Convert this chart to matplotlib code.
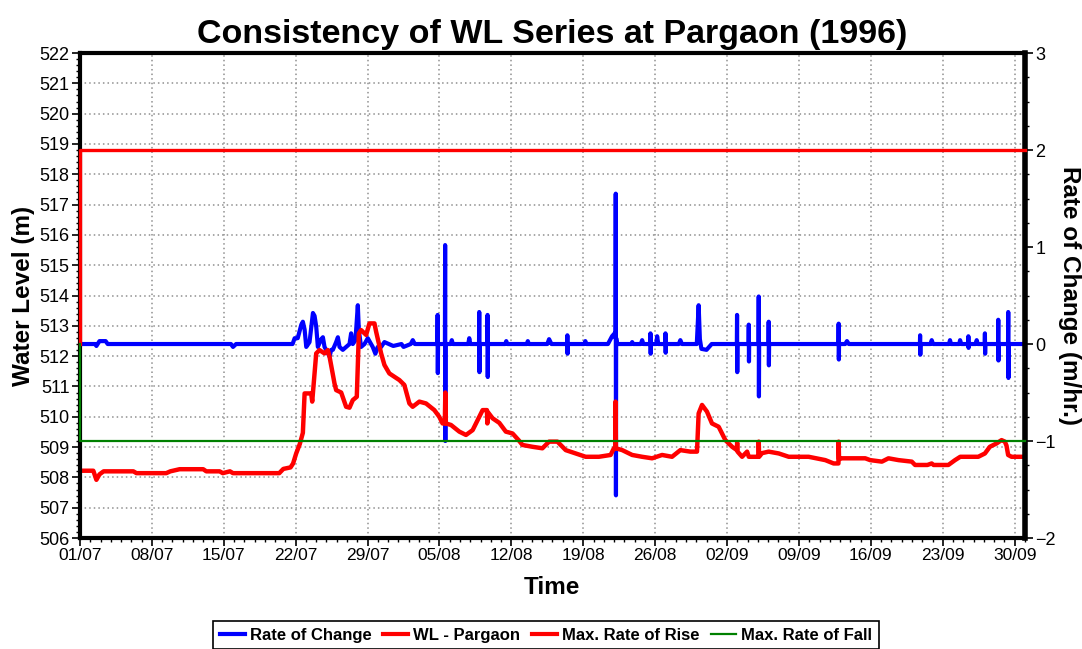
import numpy as np
import pandas as pd
import matplotlib
matplotlib.use('Agg')
import matplotlib.pyplot as plt
import matplotlib.dates as mdates
from matplotlib.lines import Line2D
from matplotlib.ticker import MultipleLocator, FixedLocator

plt.rcParams['font.family'] = ['Liberation Sans', 'DejaVu Sans']

start = pd.Timestamp('1996-07-01')

# water level (m), days after 01/07/1996
wl_day = [0.0, 1.3, 1.6, 1.9, 2.3, 5.2, 5.5, 8.4, 8.8, 9.7, 12.0, 12.3, 13.6, 13.9,
          14.6, 14.9, 19.4, 19.8, 20.5, 20.75, 21.05, 21.4, 21.7, 21.87, 22.51, 22.61,
          23.0, 23.32, 23.81, 24.13, 24.3, 24.78, 24.94, 25.43, 25.91, 26.24, 26.56,
          26.95, 27.15, 27.37, 27.86, 28.18, 28.67, 28.83, 29.32, 29.64, 30.12, 30.61,
          31.1, 31.58, 32.07, 32.39, 33.04, 33.69, 34.5, 34.98, 35.3, 35.52, 35.57,
          35.62, 36.12, 36.93, 37.58, 38.23, 38.71, 39.2, 39.62, 39.66, 39.72, 40.17,
          40.82, 41.46, 42.11, 42.7, 43.08, 44.05, 45.02, 45.67, 46.48, 47.29, 48.26,
          49.23, 50.52, 51.66, 51.98, 52.12, 52.14, 52.18, 52.79, 53.76, 54.73, 55.7,
          56.67, 57.64, 58.45, 59.42, 60.07, 60.23, 60.56, 61.04, 61.53, 62.18, 62.83,
          63.49, 63.95, 63.98, 64.02, 64.46, 64.95, 65.11, 66.05, 66.08, 66.12, 66.4,
          67.05, 68.03, 69.0, 70.94, 72.56, 73.37, 73.84, 73.86, 73.9, 74.18, 76.45,
          76.93, 78.07, 78.71, 79.69, 80.98, 81.3, 82.5, 82.92, 83.1, 84.54, 85.19,
          85.7, 87.45, 88.1, 88.58, 89.23, 89.72, 90.04, 90.2, 90.36, 90.69, 91.9]
wl_val = [508.22, 508.22, 507.92, 508.10, 508.20, 508.20, 508.14, 508.14, 508.20,
          508.27, 508.27, 508.20, 508.20, 508.14, 508.20, 508.14, 508.14, 508.28,
          508.33, 508.46, 508.79, 509.10, 509.47, 510.77, 510.77, 510.50, 512.09,
          512.20, 512.09, 512.20, 511.98, 511.10, 510.88, 510.80, 510.33, 510.30,
          510.55, 510.66, 512.75, 512.86, 512.70, 513.08, 513.08, 512.81, 512.09,
          511.71, 511.43, 511.32, 511.21, 511.05, 510.44, 510.33, 510.50, 510.44,
          510.22, 510.00, 509.78, 509.78, 510.80, 509.78, 509.73, 509.51, 509.40,
          509.56, 509.89, 510.22, 510.22, 509.78, 510.15, 509.95, 509.80, 509.51,
          509.45, 509.23, 509.07, 509.01, 508.96, 509.18, 509.18, 508.90, 508.79,
          508.68, 508.68, 508.74, 508.96, 508.96, 510.50, 508.96, 508.90, 508.74,
          508.68, 508.63, 508.74, 508.68, 508.90, 508.85, 508.85, 510.11, 510.39,
          510.17, 509.78, 509.67, 509.23, 509.01, 508.90, 509.15, 508.85, 508.68,
          508.85, 508.68, 508.68, 509.18, 508.68, 508.80, 508.85, 508.79, 508.68,
          508.68, 508.57, 508.46, 508.46, 509.18, 508.60, 508.63, 508.63, 508.57,
          508.52, 508.63, 508.57, 508.52, 508.41, 508.41, 508.46, 508.41, 508.41,
          508.57, 508.68, 508.68, 508.79, 509.01, 509.12, 509.23, 509.18, 509.05,
          508.74, 508.68, 508.68]

# rate of change (m/hr.), slow part
rate_day = [0.0, 1.5, 1.6, 1.9, 2.5, 2.7, 14.7, 14.9, 15.2, 20.7, 20.9, 21.2, 21.55,
            21.7, 21.87, 22.03, 22.35, 22.68, 22.84, 23.0, 23.16, 23.49, 23.65, 23.81,
            23.97, 24.3, 24.46, 24.62, 24.94, 25.11, 25.27, 25.59, 25.91, 26.24, 26.4,
            26.56, 26.82, 26.95, 27.05, 27.15, 27.37, 27.7, 28.02, 28.34, 28.5, 28.76,
            28.99, 29.32, 29.64, 30.5, 31.3, 31.5, 32.2, 32.4, 32.6, 36.1, 36.2, 36.3,
            37.8, 37.9, 38.0, 41.4, 41.5, 41.6, 43.5, 43.6, 43.7, 45.5, 45.67, 45.9,
            49.1, 49.2, 49.3, 51.4, 51.8, 52.05, 52.3, 53.7, 53.76, 53.85, 54.6, 54.73,
            54.85, 56.1, 56.19, 56.3, 58.3, 58.45, 58.6, 60.05, 60.23, 60.35, 60.5,
            61.0, 61.5, 62.0, 74.5, 74.67, 74.85, 82.8, 82.92, 83.05, 84.6, 84.7, 84.8,
            85.6, 85.68, 85.8, 87.2, 87.3, 87.4, 91.9]
rate_val = [0.0, 0.0, -0.02, 0.03, 0.03, 0.0, 0.0, -0.03, 0.0, 0.0, 0.06, 0.06, 0.20,
            0.23, 0.15, -0.03, 0.02, 0.32, 0.29, 0.18, -0.03, 0.05, 0.07, -0.03, -0.06,
            -0.13, -0.06, -0.06, 0.02, 0.07, -0.03, -0.06, -0.03, 0.0, 0.11, 0.0, 0.04,
            0.25, 0.40, 0.14, -0.03, 0.0, 0.06, 0.0, -0.03, -0.10, -0.03, -0.03, 0.02,
            -0.02, 0.0, -0.03, 0.0, 0.04, 0.0, 0.0, 0.04, 0.0, 0.0, 0.06, 0.0, 0.0,
            0.03, 0.0, 0.0, 0.03, 0.0, 0.0, 0.05, 0.0, 0.0, 0.03, 0.0, 0.0, 0.08, 0.11,
            0.0, 0.0, 0.02, 0.0, 0.0, 0.04, 0.0, 0.0, 0.08, 0.0, 0.0, 0.04, 0.0, 0.0,
            0.40, 0.05, -0.05, -0.06, 0.0, 0.0, 0.0, 0.03, 0.0, 0.0, 0.04, 0.0, 0.0,
            0.04, 0.0, 0.0, 0.04, 0.0, 0.0, 0.04, 0.0, 0.0]

# sharp oscillations: day, peak, trough
spike_day = [34.82, 35.55, 38.87, 39.68, 47.45, 52.16, 55.54, 57.0, 63.97, 65.11,
             66.08, 67.05, 73.86, 81.79, 86.49, 88.1, 89.4, 90.37]
spike_hi = [0.30, 1.02, 0.33, 0.30, 0.09, 1.55, 0.11, 0.11, 0.30, 0.20, 0.49, 0.23,
            0.21, 0.09, 0.08, 0.11, 0.25, 0.33]
spike_lo = [-0.30, -1.00, -0.29, -0.34, -0.10, -1.56, -0.10, -0.09, -0.29, -0.18,
            -0.54, -0.22, -0.16, -0.11, -0.04, -0.10, -0.17, -0.35]

# limits (start from zero at the first instant)
limit_day = [0.0, 0.0, 92.0]
max_rise = [0.0, 2.0, 2.0]
max_fall = [0.0, -1.0, -1.0]

def to_dates(days):
    return mdates.date2num(start + pd.to_timedelta(np.asarray(days, dtype=float), unit='D'))

rd = list(rate_day)
rv = list(rate_val)
for d, hi, lo in zip(spike_day, spike_hi, spike_lo):
    b = float(np.interp(d, rate_day, rate_val))
    rd += [d - 0.02, d, d + 0.02, d + 0.04]
    rv += [b, hi, lo, b]
order = np.argsort(rd, kind='stable')
rd = np.array(rd)[order]
rv = np.array(rv)[order]

fig = plt.figure(figsize=(10.82, 6.49), dpi=100)
ax1 = fig.add_axes([0.0739, 0.171, 0.8734, 0.7473])
ax2 = ax1.twinx()

ax1.set_ylim(506, 522)
ax2.set_ylim(-2, 3)
ax1.set_xlim(to_dates([0])[0], to_dates([92])[0])

ax1.grid(True, which='major', color='#909090', linestyle=(0, (1, 2)), linewidth=1.1)
ax1.set_axisbelow(True)

ln_rate, = ax2.plot(to_dates(rd), rv, color='#0000ff', lw=3, solid_joinstyle='round', zorder=2)
ln_wl, = ax2.plot(to_dates(wl_day), wl_val, color='#ff0000', lw=3.2,
                  transform=ax1.transData, zorder=2.2)
ln_rise, = ax2.plot(to_dates(limit_day), max_rise, color='#ff0000', lw=2.4,
                    clip_on=False, zorder=3)
ln_fall, = ax2.plot(to_dates(limit_day), max_fall, color='#008000', lw=1.6,
                    clip_on=False, zorder=3)

for s in ['left', 'right', 'top', 'bottom']:
    ax1.spines[s].set_visible(False)
ax2.spines['left'].set_linewidth(3)
ax2.spines['right'].set_linewidth(4)
for s in ['top', 'bottom']:
    ax2.spines[s].set_linewidth(3)
    ax2.spines[s].set_linestyle((0, (1, 1)))

weeks = to_dates(np.arange(0, 92, 7))
ax1.xaxis.set_major_locator(FixedLocator(weeks))
ax1.xaxis.set_minor_locator(FixedLocator(to_dates(np.arange(0, 93, 1))))
ax1.xaxis.set_major_formatter(mdates.DateFormatter('%d/%m'))
ax1.yaxis.set_major_locator(MultipleLocator(1))
ax1.yaxis.set_minor_locator(MultipleLocator(0.2))
ax2.yaxis.set_major_locator(MultipleLocator(1))
ax2.yaxis.set_minor_locator(MultipleLocator(0.25))

ax1.tick_params(axis='x', which='major', length=6, width=1.2, labelsize=12.5, pad=1.5)
ax1.tick_params(axis='y', which='major', length=6, width=1.2, labelsize=13, pad=1.5)
ax1.tick_params(axis='both', which='minor', length=3, width=1.0)
ax2.tick_params(axis='y', which='major', length=6, width=1.2, labelsize=13, pad=1.5)
ax2.tick_params(axis='y', which='minor', length=3, width=1.0)

ax1.set_title('Consistency of WL Series at Pargaon (1996)', fontsize=24.5, fontweight='bold', pad=7)
fig.text(24 / 1082, 1 - 295.5 / 649, 'Water Level (m)', rotation=90, ha='center', va='center',
         fontsize=17.5, fontweight='bold')
fig.text(1069 / 1082, 1 - 295.5 / 649, 'Rate of Change (m/hr.)', rotation=-90, ha='center',
         va='center', fontsize=17.5, fontweight='bold')
fig.text(552 / 1082, 1 - 587 / 649, 'Time', ha='center', va='center', fontsize=17.5,
         fontweight='bold')

handles = [Line2D([], [], color='#0000ff', lw=3), Line2D([], [], color='#ff0000', lw=3),
           Line2D([], [], color='#ff0000', lw=3), Line2D([], [], color='#008000', lw=1.6)]
labels = ['Rate of Change', 'WL - Pargaon', 'Max. Rate of Rise', 'Max. Rate of Fall']
leg = fig.legend(handles, labels, loc='upper center', bbox_to_anchor=(546 / 1082, 1 - 621 / 649),
                 ncol=4, frameon=True, fancybox=False, edgecolor='black', framealpha=1,
                 prop={'weight': 'bold', 'size': 12}, handlelength=1.5, handletextpad=0.3,
                 columnspacing=0.7, borderpad=0.4, borderaxespad=0)
leg.get_frame().set_linewidth(1.2)

fig.savefig('out.png', dpi=100)
